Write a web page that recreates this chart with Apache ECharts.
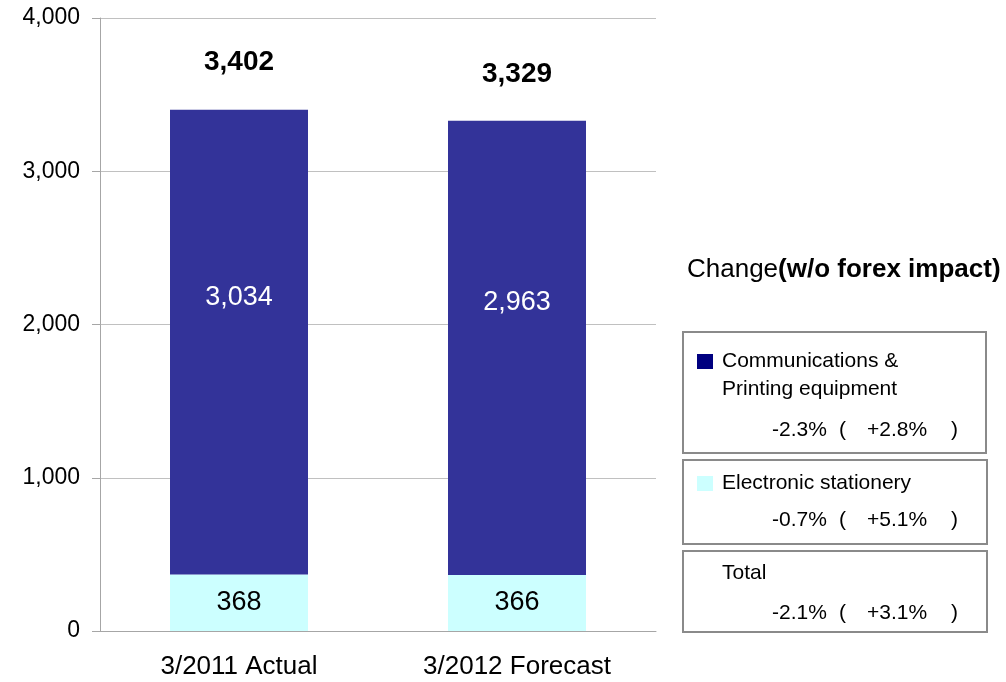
<!DOCTYPE html>
<html>
<head>
<meta charset="utf-8">
<title>Net sales by segment</title>
<script src="https://cdn.jsdelivr.net/npm/echarts@6/dist/echarts.min.js"></script>
<style>
  html, body { margin: 0; padding: 0; background: #ffffff; }
  #chart { width: 1006px; height: 682px; }
</style>
</head>
<body>
<div id="chart"></div>
<script>
// Fiscal periods on the category axis
const categories = ['3/2011 Actual', '3/2012 Forecast'];

// Segment sales
const seriesNames = ['Communications & Printing equipment', 'Electronic stationery'];
const commPrinting = [3034, 2963];
const electronicStationery = [368, 366];

// Value axis ticks
const yTicks = [0, 1000, 2000, 3000, 4000];

// Year-on-year change, and change without forex impact
const changeRows = ['Communications & Printing equipment', 'Electronic stationery', 'Total'];
const changePct = ['-2.3%', '-0.7%', '-2.1%'];
const changeExForex = ['+2.8%', '+5.1%', '+3.1%'];

const totals = commPrinting.map((v, i) => v + electronicStationery[i]);

const fmt = v => String(v).replace(/\B(?=(\d{3})+(?!\d))/g, ',');
const FONT = 'Liberation Sans, Arial, sans-serif';

const chart = echarts.init(document.getElementById('chart'), null, { renderer: 'canvas' });

const boxStyle = { fill: 'none', stroke: '#8a8a8a', lineWidth: 2 };
const txt = (x, y, text, extra) => ({
  type: 'text', x: x, y: y,
  style: Object.assign({ text: text, font: '21px ' + FONT, fill: '#000', verticalAlign: 'middle' }, extra || {})
});
// "-x.x% (   +y.y%   )" row inside each box
const pctLine = (y, i) => [
  txt(772, y, changePct[i]),
  txt(839, y, '('),
  txt(867, y, changeExForex[i]),
  txt(951, y, ')')
];

chart.setOption({
  animation: false,
  textStyle: { fontFamily: FONT },
  grid: { left: 100, right: 350, top: 18, bottom: 51, containLabel: false },
  legend: [
    {
      data: [{ name: seriesNames[0], itemStyle: { color: '#000080' } }],
      left: 697, top: 351, padding: 0, itemWidth: 16, itemHeight: 15,
      selectedMode: false, icon: 'rect',
      formatter: () => 'Communications &',
      textStyle: { fontSize: 21, color: '#000', padding: [0, 0, 0, 4] }
    },
    {
      data: [{ name: seriesNames[1], itemStyle: { color: '#CCFFFF' } }],
      left: 697, top: 473, padding: 0, itemWidth: 16, itemHeight: 15,
      selectedMode: false, icon: 'rect',
      textStyle: { fontSize: 21, color: '#000', padding: [0, 0, 0, 4] }
    }
  ],
  xAxis: {
    type: 'category',
    data: categories,
    axisTick: { show: false },
    axisLine: { lineStyle: { color: '#a6a6a6', width: 1 } },
    axisLabel: { fontSize: 26, color: '#000', margin: 23 }
  },
  yAxis: {
    type: 'value',
    min: yTicks[0],
    max: yTicks[yTicks.length - 1],
    interval: yTicks[1] - yTicks[0],
    axisLine: { show: true, lineStyle: { color: '#a6a6a6', width: 1 } },
    axisTick: { show: true, length: 8, lineStyle: { color: '#a6a6a6' } },
    splitLine: { lineStyle: { color: '#c0c0c0', width: 1 } },
    axisLabel: { fontSize: 23, color: '#000', margin: 20, formatter: v => fmt(v) }
  },
  series: [
    {
      name: seriesNames[1],
      type: 'bar',
      stack: 'sales',
      barWidth: 138,
      data: electronicStationery,
      itemStyle: { color: '#CCFFFF' },
      label: { show: true, position: 'inside', fontSize: 27, color: '#000', formatter: p => fmt(p.value) }
    },
    {
      name: seriesNames[0],
      type: 'bar',
      stack: 'sales',
      barWidth: 138,
      data: commPrinting,
      itemStyle: { color: '#333399' },
      label: { show: true, position: 'inside', offset: [0, -45], fontSize: 27, color: '#fff', formatter: p => fmt(p.value) }
    },
    {
      // Stack totals printed above each bar
      name: 'Total',
      type: 'scatter',
      data: totals,
      symbolSize: 0,
      silent: true,
      z: 5,
      itemStyle: { opacity: 1 },
      label: {
        show: true, position: 'top', distance: 33, fontSize: 28, fontWeight: 'bold',
        color: '#000', opacity: 1, textBorderWidth: 0, formatter: p => fmt(p.value)
      }
    }
  ],
  graphic: [
    {
      type: 'text', x: 687, y: 270,
      style: {
        text: '{n|Change}{b|(w/o forex impact)}',
        verticalAlign: 'middle',
        rich: {
          n: { font: '26px ' + FONT, fill: '#000' },
          b: { font: 'bold 26px ' + FONT, fill: '#000' }
        }
      }
    },
    { type: 'rect', shape: { x: 683, y: 332, width: 303, height: 121 }, style: boxStyle },
    { type: 'rect', shape: { x: 683, y: 460, width: 304, height: 84 }, style: boxStyle },
    { type: 'rect', shape: { x: 683, y: 551, width: 304, height: 81 }, style: boxStyle },
    txt(722, 389, 'Printing equipment'),
    ...pctLine(430, 0),
    ...pctLine(520, 1),
    txt(722, 573, changeRows[2]),
    ...pctLine(613, 2)
  ]
});
</script>
</body>
</html>
